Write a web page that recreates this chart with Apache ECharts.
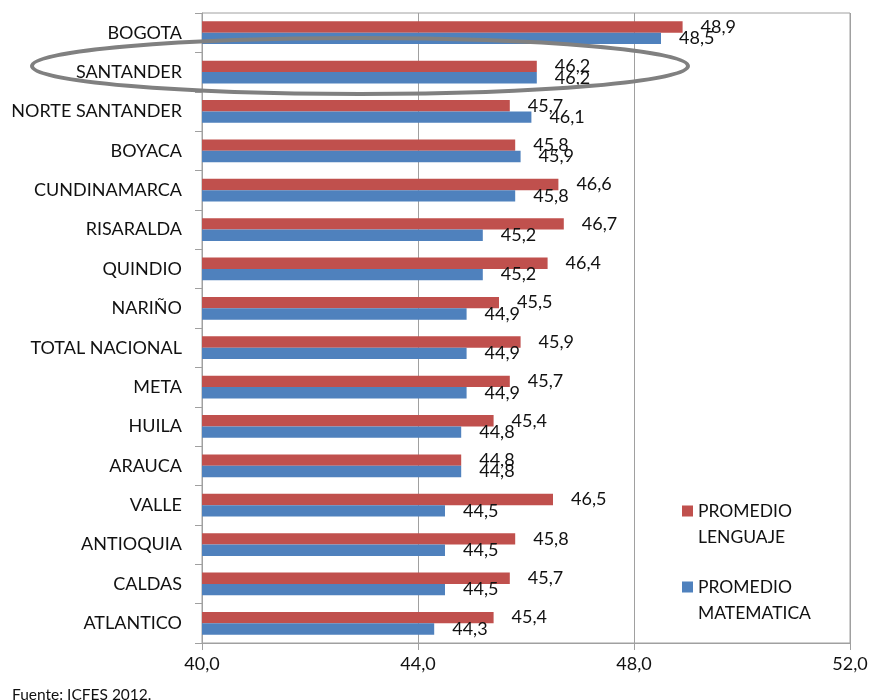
<!DOCTYPE html>
<html><head><meta charset="utf-8">
<script src="https://cdn.jsdelivr.net/npm/echarts@6/dist/echarts.min.js"></script>
<style>html,body{margin:0;padding:0;background:#fff}#c{width:872px;height:700px}</style>
</head><body><div id="c"></div>
<script>
const categories = ['BOGOTA','SANTANDER','NORTE SANTANDER','BOYACA','CUNDINAMARCA','RISARALDA','QUINDIO','NARIÑO','TOTAL NACIONAL','META','HUILA','ARAUCA','VALLE','ANTIOQUIA','CALDAS','ATLANTICO'];
const lenguaje = [48.9,46.2,45.7,45.8,46.6,46.7,46.4,45.5,45.9,45.7,45.4,44.8,46.5,45.8,45.7,45.4];
const matematica = [48.5,46.2,46.1,45.9,45.8,45.2,45.2,44.9,44.9,44.9,44.8,44.8,44.5,44.5,44.5,44.3];
const seriesNames = ['PROMEDIO\nLENGUAJE','PROMEDIO\nMATEMATICA'];
const xTicks = {min:40, max:52, interval:4};
const sourceText = 'Fuente: ICFES 2012.';

const FONT = 'Lato';
const fmt = v => Number(v).toFixed(1).replace('.', ',');
const chart = echarts.init(document.getElementById('c'), null, {renderer:'canvas'});
const labelStyle = {show:true, position:'right', distance:18, fontFamily:FONT, fontSize:18, color:'#111', formatter:p=>fmt(p.value)};
const iconPath = 'path://M0,0L11,0L11,11L0,11Z M0,37L0.01,37L0.01,36.99Z';
chart.setOption({
  animation:false,
  textStyle:{fontFamily:FONT},
  grid:{left:202, top:13, right:22, bottom:57, show:true, borderColor:'#a0a0a0', borderWidth:1},
  legend:{orient:'vertical', left:677, top:493, itemWidth:11, itemHeight:37, itemGap:24,
    textStyle:{fontFamily:FONT, fontSize:17.5, color:'#111', lineHeight:26},
    data:[{name:seriesNames[0], icon:iconPath},{name:seriesNames[1], icon:iconPath}]},
  xAxis:{type:'value', min:xTicks.min, max:xTicks.max, interval:xTicks.interval,
    axisLine:{show:true, lineStyle:{color:'#a0a0a0'}},
    axisTick:{show:true, length:7, lineStyle:{color:'#a0a0a0'}},
    splitLine:{show:true, lineStyle:{color:'#a0a0a0'}},
    axisLabel:{formatter:fmt, fontFamily:FONT, fontSize:18, color:'#111', margin:12}},
  yAxis:{type:'category', data:categories, inverse:true,
    axisLine:{show:true, lineStyle:{color:'#a0a0a0'}},
    axisTick:{show:true, length:7, lineStyle:{color:'#a0a0a0'}},
    axisLabel:{fontFamily:FONT, fontSize:18, color:'#111', margin:20}},
  series:[
    {name:seriesNames[0], type:'bar', data:lenguaje, barGap:'0%', barCategoryGap:'42%',
     itemStyle:{color:'#C0504D'}, label:labelStyle},
    {name:seriesNames[1], type:'bar', data:matematica, barGap:'0%', barCategoryGap:'42%',
     itemStyle:{color:'#4F81BD'}, label:labelStyle}
  ],
  graphic:[
    {type:'ellipse', shape:{cx:360, cy:66, rx:328, ry:28}, z:100,
     style:{fill:null, stroke:'#808080', lineWidth:4}},
    {type:'text', left:12, top:687, style:{text:sourceText, fontFamily:FONT, fontSize:15.5, fill:'#111'}}
  ]
});
</script></body></html>
